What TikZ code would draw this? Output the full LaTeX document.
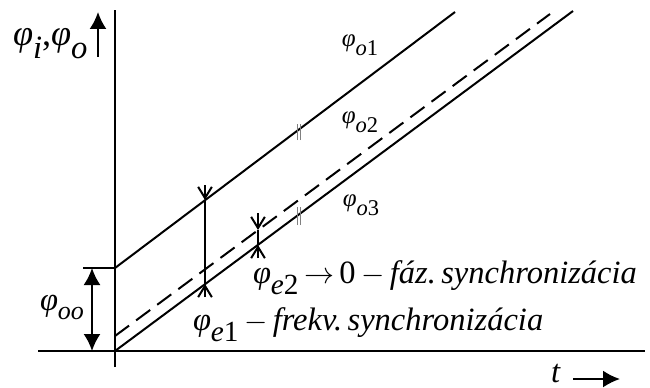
\documentclass[tikz,border=0pt]{standalone}
\usepackage{fontspec}
\setmainfont{Liberation Serif}
\usetikzlibrary{arrows.meta,calc}
\newcommand{\phis}[2]{\textit{φ}\raisebox{-0.75ex}{\scalebox{0.9}{\textit{#1}#2}}}

\begin{document}
\begin{tikzpicture}[x=0.4pt,y=0.4pt,line width=0.8pt,>={Latex[length=6.8pt,width=6.8pt]}]
\tikzstyle{biglabel}=[inner sep=0pt,font=\fontsize{13}{15}\selectfont]
\tikzstyle{smalllabel}=[inner sep=0pt,font=\fontsize{10}{12}\selectfont]
\tikzstyle{barb}=[-{Straight Barb[length=4.5pt,width=5.5pt]}]
\tikzstyle{hatch}=[line width=0.4pt,gray]
\useasboundingbox (0,0) rectangle (650,387);
% axes
\coordinate (O) at (115,36);
\coordinate (ybot) at (115,20);
\coordinate (ytop) at (115,377);
\coordinate (xleft) at (38,36);
\coordinate (xright) at (645,36);
\draw (ybot) -- (ytop);
\draw (xleft) -- (xright);
\coordinate (yarr0) at (98,330);
\coordinate (yarr1) at (98,375);
\draw[->] (yarr0) -- (yarr1);
\node[biglabel,font=\fontsize{14.5}{17}\selectfont,anchor=base west] (philab) at (12,341) {\phis{i}{},\phis{o}{}};
\node[biglabel,anchor=base] (tlab) at (556,5) {\textit{t}};
\coordinate (tarr0) at (573,8);
\coordinate (tarr1) at (620,8);
\draw[->] (tarr0) -- (tarr1);
% phase lines
\coordinate (top0) at (115,119);
\coordinate (top1) at (455,375);
\coordinate (dash0) at (115,51);
\coordinate (dash1) at (550,373);
\coordinate (bot1) at (573,376);
\draw (top0) -- (top1);
\draw[dash pattern=on 7pt off 3.5pt] (dash0) -- (dash1);
\draw (O) -- (bot1);
\node[smalllabel] (o1) at (360,342) {\phis{o}{1}};
\node[smalllabel] (o2) at (360,265) {\phis{o}{2}};
\node[smalllabel] (o3) at (361,182) {\phis{o}{3}};
% small hatches
\foreach \hx in {297,300} {
  \draw[hatch] (\hx,247) -- (\hx,263);
  \draw[hatch] (\hx,162) -- (\hx,180);
}
% initial offset
\coordinate (tick0) at (83,119);
\draw (tick0) -- (top0);
\coordinate (off1) at (92,119);
\coordinate (off0) at (92,36);
\draw[<->] (off0) -- (off1);
\node[biglabel] (oolab) at (62,80) {\textit{φ}\raisebox{-0.6ex}{\scalebox{0.8}{\textit{oo}}}};
% phase errors
\coordinate (s1a) at (205,202);
\coordinate (s1t) at (205,187);
\coordinate (s1u) at (205,103);
\coordinate (s1b) at (205,90);
\draw (s1t) -- (s1u);
\draw[barb] (s1a) -- (s1t);
\draw[barb] (s1b) -- (s1u);
\coordinate (s2a) at (258,174);
\coordinate (s2t) at (258,157);
\coordinate (s2u) at (258,142);
\coordinate (s2b) at (258,129);
\draw (s2t) -- (s2u);
\draw[barb] (s2a) -- (s2t);
\draw[barb] (s2b) -- (s2u);
\node[biglabel,anchor=base west] (e2lab) at (252,104) {\phis{e}{2}\,$\rightarrow$\,0\,$-$\,\textit{fáz.\,synchronizácia}};
\node[biglabel,anchor=base west] (e1lab) at (192,57) {\phis{e}{1}\,$-$\,\textit{frekv.\,synchronizácia}};
\end{tikzpicture}
\end{document}
